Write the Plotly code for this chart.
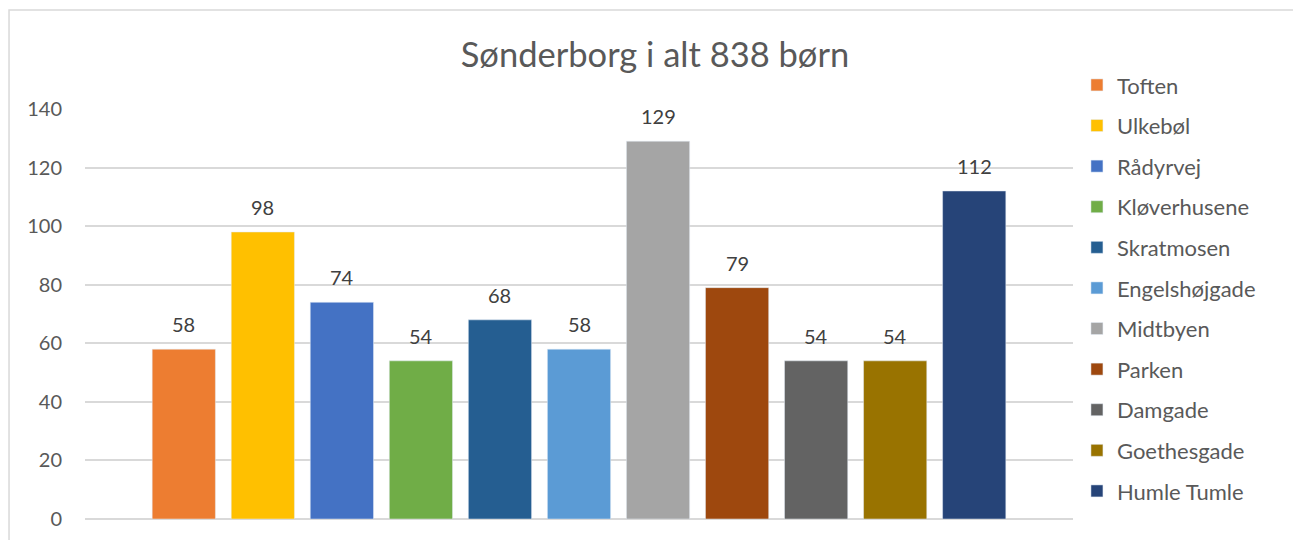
import plotly.graph_objects as go

# %% Data
institutions = ["Toften", "Ulkebøl", "Rådyrvej", "Kløverhusene", "Skratmosen",
                "Engelshøjgade", "Midtbyen", "Parken", "Damgade", "Goethesgade",
                "Humle Tumle"]
children = [58, 98, 74, 54, 68, 58, 129, 79, 54, 54, 112]
colors = ["#ED7D31", "#FFC000", "#4472C4", "#70AD47", "#255E91", "#5B9BD5",
          "#A5A5A5", "#9E480E", "#636363", "#997300", "#264478"]
y_ticks = [0, 20, 40, 60, 80, 100, 120, 140]
title = "Sønderborg i alt 838 børn"

FONT = "Lato, Calibri, sans-serif"
GREY = "#595959"

# %% Figure
fig = go.Figure()

for name, val, col in zip(institutions, children, colors):
    fig.add_trace(
        go.Bar(
            x=[name],
            y=[val],
            name=name,
            marker_color=col,
            legendgroup=name,
            hoverinfo="name+y",
        )
    )
    # Data label above each bar
    fig.add_annotation(
        x=name, y=val, text=str(val), showarrow=False,
        yanchor="middle", yshift=25,
        font=dict(family=FONT, size=20, color="#404040"),
    )

# page body has an 8px margin, so everything is offset by -8px here
fig.update_layout(
    width=1301,
    height=540,
    margin=dict(l=77, r=236, t=2, b=0, autoexpand=False),
    paper_bgcolor="white",
    plot_bgcolor="white",
    bargap=0.2,
    font=dict(family=FONT, color=GREY),
    title=dict(text=title, x=0.4973, xanchor="center", y=0.913, yanchor="middle",
               font=dict(family=FONT, size=34.5, color=GREY)),
    legend=dict(x=1.004, y=0.8994, xanchor="left", yanchor="top",
                font=dict(family=FONT, size=22, color=GREY),
                tracegroupgap=9, itemclick=False),
    showlegend=True,
)

fig.update_xaxes(showticklabels=False, showgrid=False, zeroline=False,
                 showline=False, ticks="", range=[-1.25, 11.25],
                 automargin=False)
fig.update_yaxes(range=[0, 140], tickvals=y_ticks, domain=[0.0539, 0.816],
                 showgrid=True, gridcolor="#d9d9d9", gridwidth=1.5,
                 zeroline=True, zerolinecolor="#d9d9d9", zerolinewidth=1.5,
                 showline=False, ticks="", ticklabelstandoff=22,
                 automargin=False,
                 tickfont=dict(family=FONT, size=20, color=GREY))

# Chart area border
fig.add_shape(type="rect", xref="paper", yref="paper",
              x0=-0.0769, x1=1.2298, y0=-0.2, y1=1.0,
              line=dict(color="#d9d9d9", width=1.5), layer="below")

fig.write_html("out.html")
